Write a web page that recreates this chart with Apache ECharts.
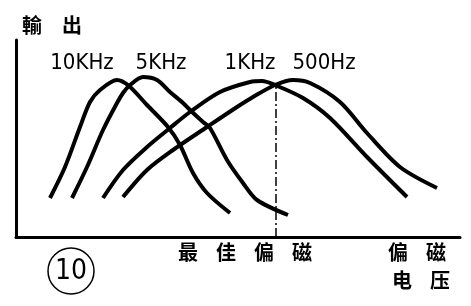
<!DOCTYPE html>
<html><head><meta charset="utf-8">
<script src="https://cdn.jsdelivr.net/npm/echarts@6/dist/echarts.min.js"></script>
<style>html,body{margin:0;padding:0;background:#fff}#c{width:471px;height:306px}</style>
</head><body><div id="c"></div>
<script>
// Values in arbitrary units (x: bias voltage, y: output)
const seriesNames = ['10KHz', '5KHz', '1KHz', '500Hz'];
const curve10k = [[34,39],[49,70],[64,110],[74,135],[84,147],[101,157],[113,151],[131,132],[152,110],[164,92],[177,64],[191,44],[214,24]];
const curve5k = [[56,39],[71,70],[87,107],[101,134],[107,144],[113,151],[127,160],[141,157],[154,145],[167,134],[174,127],[187,115],[194,109],[211,77],[227,54],[241,37],[272,22]];
const curve1k = [[87,39],[107,67],[131,90],[154,109],[174,125],[204,145],[234,155],[246,156],[259,152],[287,139],[314,119],[351,80],[391,40]];
const curve500 = [[107,40],[131,67],[157,87],[191,110],[221,130],[237,140],[259,152],[277,157],[294,154],[324,135],[351,104],[384,70],[421,49]];
const optimumBias = [[260,0],[260,151]];
const yTitle = ['輸', '出'];
const optimumLabel = ['最', '佳', '偏', '磁'];
const xTitle1 = ['偏', '磁'];
const xTitle2 = ['电', '压'];
const figureNo = '10';

const chart = echarts.init(document.getElementById('c'));
const curves = [curve10k, curve5k, curve1k, curve500];
const labelX = [82, 161, 250, 324];
const cjk = '"Noto Sans CJK SC","Noto Sans CJK TC",sans-serif';
const narrow = '"Liberation Sans Narrow","DejaVu Sans Condensed",sans-serif';

const graphic = [];
yTitle.forEach((ch, i) => graphic.push({type:'text', left: 22 + i*40, top: 15, style:{text: ch, font: 'bold 20px ' + cjk, fill:'#000'}}));
seriesNames.forEach((n, i) => graphic.push({type:'text', x: labelX[i], y: 63, style:{text: n, font: '22px ' + narrow, fill:'#000', align:'center', verticalAlign:'middle'}}));
optimumLabel.forEach((ch, i) => graphic.push({type:'text', left: 178 + i*38, top: 242, style:{text: ch, font: 'bold 20px ' + cjk, fill:'#000'}}));
xTitle1.forEach((ch, i) => graphic.push({type:'text', left: 388 + i*38, top: 242, style:{text: ch, font: 'bold 20px ' + cjk, fill:'#000'}}));
xTitle2.forEach((ch, i) => graphic.push({type:'text', left: 392 + i*38, top: 270, style:{text: ch, font: 'bold 20px ' + cjk, fill:'#000'}}));
graphic.push({type:'circle', shape:{cx:71, cy:271, r:23}, style:{fill:'none', stroke:'#000', lineWidth:1.5}});
graphic.push({type:'text', x:71, y:272, style:{text: figureNo, font:'28px ' + narrow, fill:'#000', align:'center', verticalAlign:'middle'}});

const series = curves.map((d, i) => ({
  name: seriesNames[i], type:'line', data: d, smooth: 0.3, symbol:'none',
  lineStyle:{color:'#000', width:4}, z: 3
}));
series.push({type:'line', data: optimumBias, symbol:'none', lineStyle:{color:'#000', width:1.5, type:[9,3,2,3]}, z:2});

chart.setOption({
  animation:false,
  backgroundColor:'#fff',
  grid:{left:16, right:11, top:40, bottom:69},
  xAxis:{type:'value', min:0, max:444, axisLine:{show:true, onZero:false, lineStyle:{color:'#000', width:3}}, axisTick:{show:false}, axisLabel:{show:false}, splitLine:{show:false}},
  yAxis:{type:'value', min:0, max:197, axisLine:{show:true, onZero:false, lineStyle:{color:'#000', width:3}}, axisTick:{show:false}, axisLabel:{show:false}, splitLine:{show:false}},
  series: series,
  graphic: graphic
});
</script></body></html>
